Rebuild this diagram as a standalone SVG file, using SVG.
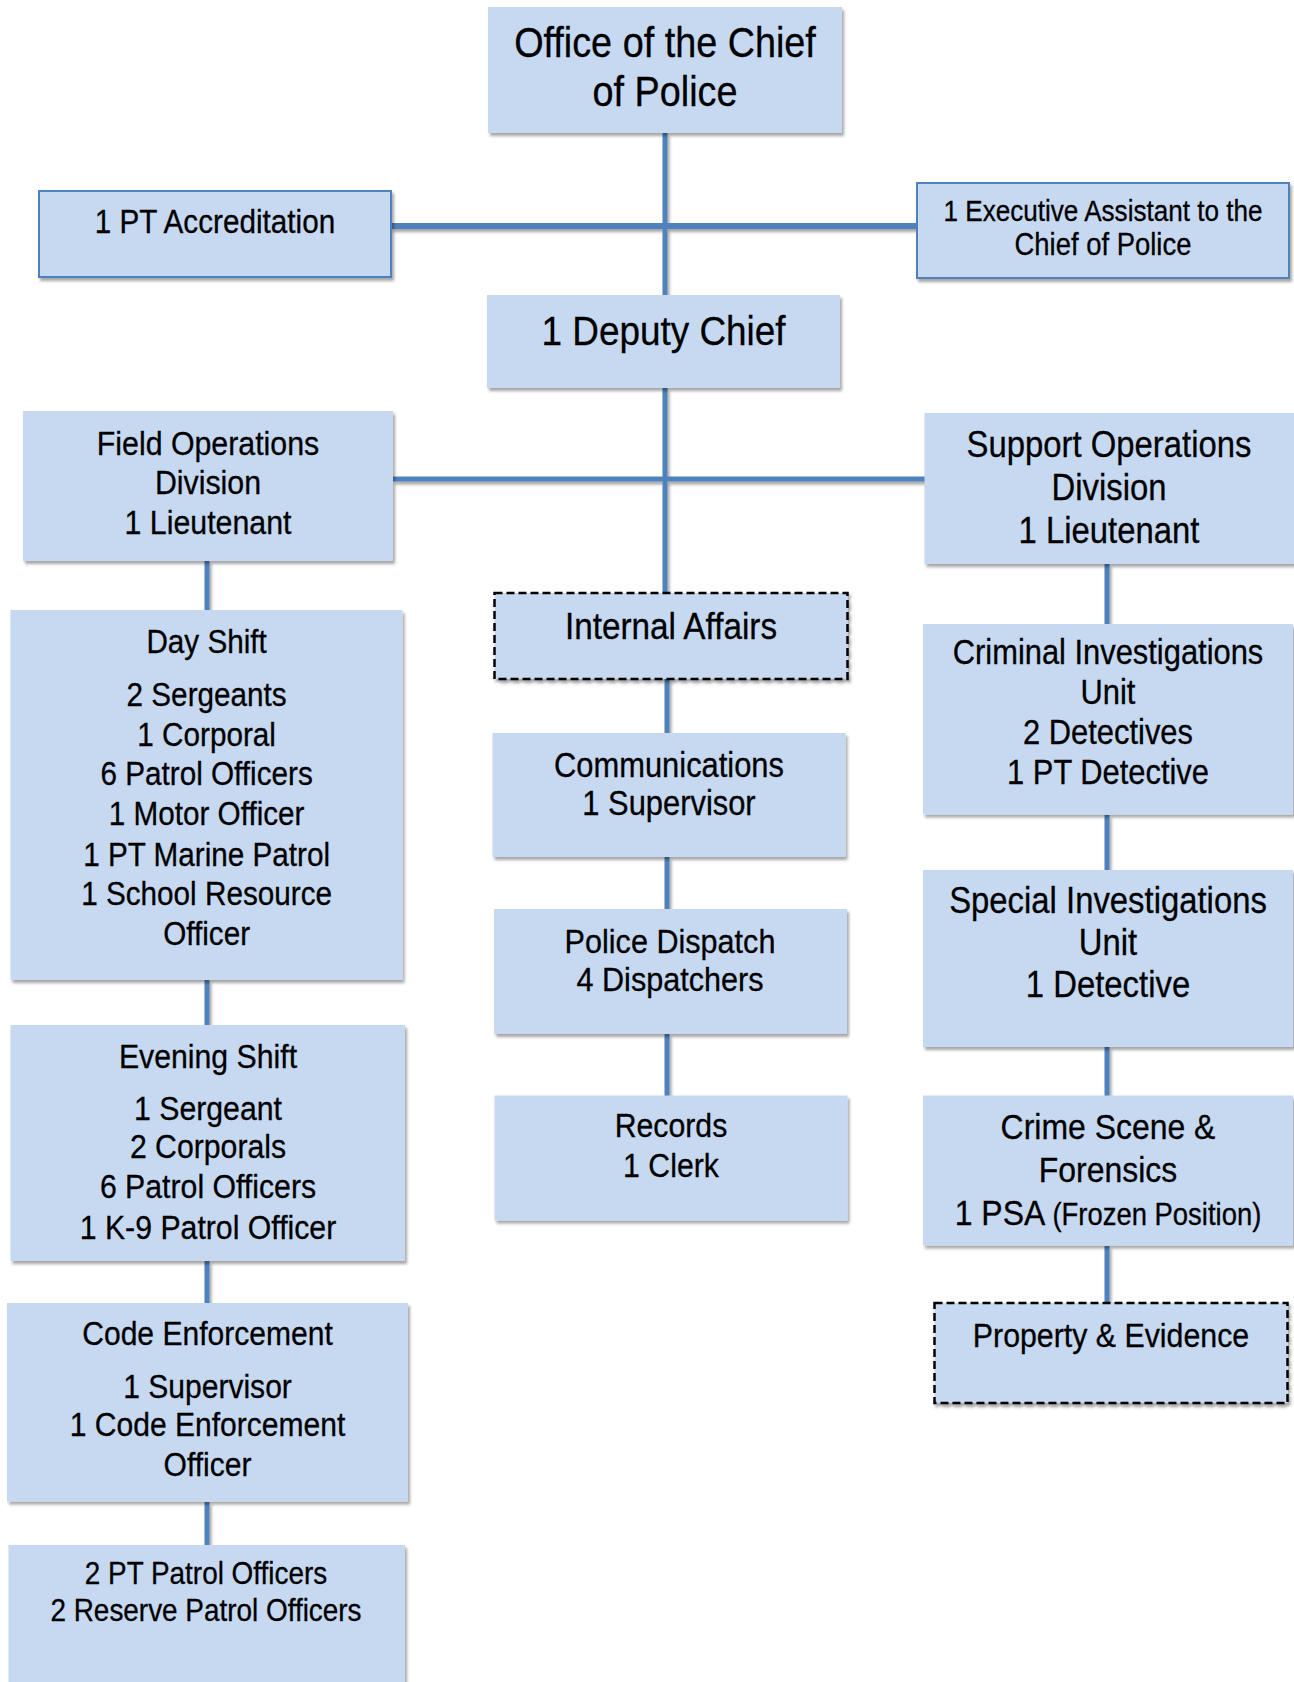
<svg xmlns="http://www.w3.org/2000/svg" width="1294" height="1682" viewBox="0 0 1294 1682">
<defs>
<filter id="sh" filterUnits="userSpaceOnUse" x="0" y="0" width="1294" height="1682">
<feDropShadow dx="2" dy="3" stdDeviation="1.5" flood-color="#000" flood-opacity="0.35"/>
</filter>
</defs>
<style>
.box{fill:#c6d9f1;filter:url(#sh)}
.bb{stroke:#4f81bd;stroke-width:2}
.dash{stroke:#000;stroke-width:2.5;stroke-dasharray:8 4}
.c{stroke:#4f81bd;stroke-width:5;fill:none}
text{font-family:"Liberation Sans",Arial,sans-serif;fill:#000;stroke:#000;stroke-width:0.3;text-anchor:middle}
</style>
<rect width="1294" height="1682" fill="#fff"/>
<g id="connectors" filter="url(#sh)">
<path class="c" d="M665 133V295"/>
<path class="c" style="stroke-width:6" d="M391 226H917"/>
<path class="c" d="M665 388V593"/>
<path class="c" d="M393 479H925"/>
<path class="c" d="M667 679V733M667 857V909M667 1034V1096"/>
<path class="c" d="M207 561V610M207 980V1025M207 1261V1303M207 1502V1545"/>
<path class="c" d="M1107 564V624M1107 815V870M1107 1047V1096M1107 1246V1303"/>
</g>
<g id="chief"><rect class="box" x="488" y="7" width="354" height="126"/>
<text font-size="42" transform="translate(665 0) scale(0.9 1)"><tspan x="0" y="57">Office of the Chief</tspan><tspan x="0" y="106">of Police</tspan></text></g>
<g id="accreditation"><rect class="box bb" x="39" y="191" width="352" height="86"/>
<text font-size="33" transform="translate(215 0) scale(0.9 1)"><tspan x="0" y="233">1 PT Accreditation</tspan></text></g>
<g id="exec-assistant"><rect class="box bb" x="917" y="183" width="372" height="95"/>
<text font-size="29" transform="translate(1103 0) scale(0.9 1)"><tspan x="0" y="221">1 Executive Assistant to the</tspan><tspan x="0" y="255" font-size="30.5">Chief of Police</tspan></text></g>
<g id="deputy"><rect class="box" x="487" y="295" width="353" height="93"/>
<text font-size="41" transform="translate(663.5 0) scale(0.9 1)"><tspan x="0" y="345">1 Deputy Chief</tspan></text></g>
<g id="field-ops"><rect class="box" x="23" y="411" width="370" height="150"/>
<text font-size="33.7" transform="translate(208 0) scale(0.9 1)"><tspan x="0" y="455">Field Operations</tspan><tspan x="0" y="494">Division</tspan><tspan x="0" y="534">1 Lieutenant</tspan></text></g>
<g id="support-ops"><rect class="box" x="924.5" y="413" width="370" height="151"/>
<text font-size="36.5" transform="translate(1109 0) scale(0.9 1)"><tspan x="0" y="457">Support Operations</tspan><tspan x="0" y="500">Division</tspan><tspan x="0" y="543.5">1 Lieutenant</tspan></text></g>
<g id="internal-affairs"><rect class="box dash" x="494.5" y="593" width="353" height="86"/>
<text font-size="37" transform="translate(671 0) scale(0.9 1)"><tspan x="0" y="639">Internal Affairs</tspan></text></g>
<g id="communications"><rect class="box" x="492.5" y="733" width="353" height="124"/>
<text font-size="34.3" transform="translate(669 0) scale(0.9 1)"><tspan x="0" y="777">Communications</tspan><tspan x="0" y="815">1 Supervisor</tspan></text></g>
<g id="dispatch"><rect class="box" x="494" y="909" width="353" height="125"/>
<text font-size="34" transform="translate(670 0) scale(0.9 1)"><tspan x="0" y="953">Police Dispatch</tspan><tspan x="0" y="991">4 Dispatchers</tspan></text></g>
<g id="records"><rect class="box" x="494.5" y="1095.5" width="353" height="125"/>
<text font-size="33.6" transform="translate(671 0) scale(0.9 1)"><tspan x="0" y="1137">Records</tspan><tspan x="0" y="1177">1 Clerk</tspan></text></g>
<g id="day-shift"><rect class="box" x="10.5" y="610" width="392" height="370"/>
<text font-size="33" transform="translate(206.6 0) scale(0.9 1)"><tspan x="0" y="653">Day Shift</tspan><tspan x="0" y="706">2 Sergeants</tspan><tspan x="0" y="746">1 Corporal</tspan><tspan x="0" y="785.5">6 Patrol Officers</tspan><tspan x="0" y="825.5">1 Motor Officer</tspan><tspan x="0" y="866">1 PT Marine Patrol</tspan><tspan x="0" y="905">1 School Resource</tspan><tspan x="0" y="945.5">Officer</tspan></text></g>
<g id="evening-shift"><rect class="box" x="10.5" y="1025" width="394.5" height="236"/>
<text font-size="33.6" transform="translate(208 0) scale(0.9 1)"><tspan x="0" y="1068">Evening Shift</tspan><tspan x="0" y="1120">1 Sergeant</tspan><tspan x="0" y="1158">2 Corporals</tspan><tspan x="0" y="1198.5">6 Patrol Officers</tspan><tspan x="0" y="1239">1 K-9 Patrol Officer</tspan></text></g>
<g id="code-enforcement"><rect class="box" x="7" y="1303" width="401" height="198.5"/>
<text font-size="33.4" transform="translate(207.5 0) scale(0.9 1)"><tspan x="0" y="1345">Code Enforcement</tspan><tspan x="0" y="1398.5">1 Supervisor</tspan><tspan x="0" y="1436.5">1 Code Enforcement</tspan><tspan x="0" y="1476">Officer</tspan></text></g>
<g id="pt-reserve"><rect class="box" x="8.5" y="1545" width="396.5" height="150"/>
<text font-size="31" transform="translate(206 0) scale(0.9 1)"><tspan x="0" y="1584">2 PT Patrol Officers</tspan><tspan x="0" y="1621">2 Reserve Patrol Officers</tspan></text></g>
<g id="criminal-investigations"><rect class="box" x="923" y="624" width="370" height="190.5"/>
<text font-size="34.3" transform="translate(1108 0) scale(0.9 1)"><tspan x="0" y="664">Criminal Investigations</tspan><tspan x="0" y="704">Unit</tspan><tspan x="0" y="744.5">2 Detectives</tspan><tspan x="0" y="784.5">1 PT Detective</tspan></text></g>
<g id="special-investigations"><rect class="box" x="923" y="870" width="370" height="177"/>
<text font-size="36.5" transform="translate(1108 0) scale(0.9 1)"><tspan x="0" y="913">Special Investigations</tspan><tspan x="0" y="955">Unit</tspan><tspan x="0" y="997">1 Detective</tspan></text></g>
<g id="crime-scene"><rect class="box" x="923" y="1095.5" width="370" height="150"/>
<text font-size="35.5" transform="translate(1108 0) scale(0.9 1)"><tspan x="0" y="1139">Crime Scene &amp;</tspan><tspan x="0" y="1182.5">Forensics</tspan><tspan x="0" y="1225.5">1 PSA <tspan font-size="30.5">(Frozen Position)</tspan></tspan></text></g>
<g id="property-evidence"><rect class="box dash" x="934.5" y="1303" width="353" height="100"/>
<text font-size="33.7" transform="translate(1111 0) scale(0.9 1)"><tspan x="0" y="1347">Property &amp; Evidence</tspan></text></g>
</svg>
